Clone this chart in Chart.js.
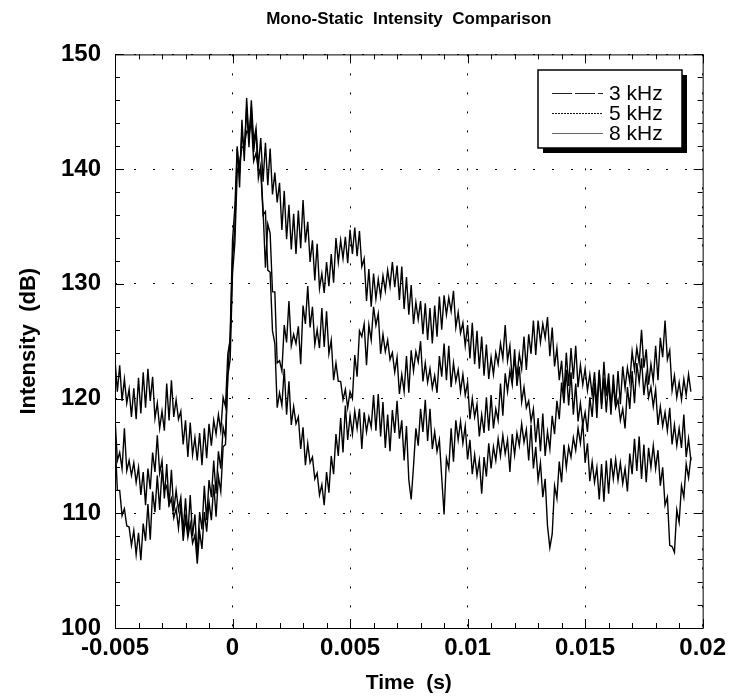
<!DOCTYPE html>
<html>
<head>
<meta charset="utf-8">
<script src="https://cdn.jsdelivr.net/npm/chart.js@4.4.1/dist/chart.umd.min.js"></script>
<style>
  html, body { margin: 0; padding: 0; background: #fff; }
  #wrap { width: 732px; height: 700px; }
</style>
</head>
<body>
<div id="wrap"><canvas id="intensityChart" width="732" height="700"></canvas></div>
<script>
// sample times in ms
const timesMs = [
  -5.0, -4.9, -4.8, -4.7, -4.6, -4.5, -4.4, -4.3, -4.2, -4.1,
  -4.0, -3.9, -3.8, -3.7, -3.6, -3.5, -3.4, -3.3, -3.2, -3.1,
  -3.0, -2.9, -2.8, -2.7, -2.6, -2.5, -2.4, -2.3, -2.2, -2.1,
  -2.0, -1.9, -1.8, -1.7, -1.6, -1.5, -1.4, -1.3, -1.2, -1.1,
  -1.0, -0.9, -0.8, -0.7, -0.6, -0.5, -0.4, -0.3, -0.2, -0.1,
  0.0, 0.1, 0.2, 0.3, 0.4, 0.5, 0.6, 0.7, 0.8, 0.9,
  1.0, 1.1, 1.2, 1.3, 1.4, 1.5, 1.6, 1.7, 1.8, 1.9,
  2.0, 2.1, 2.2, 2.3, 2.4, 2.5, 2.6, 2.7, 2.8, 2.9,
  3.0, 3.1, 3.2, 3.3, 3.4, 3.5, 3.6, 3.7, 3.8, 3.9,
  4.0, 4.1, 4.2, 4.3, 4.4, 4.5, 4.6, 4.7, 4.8, 4.9,
  5.0, 5.1, 5.2, 5.3, 5.4, 5.5, 5.6, 5.7, 5.8, 5.9,
  6.0, 6.1, 6.2, 6.3, 6.4, 6.5, 6.6, 6.7, 6.8, 6.9,
  7.0, 7.1, 7.2, 7.3, 7.4, 7.5, 7.6, 7.7, 7.8, 7.9,
  8.0, 8.1, 8.2, 8.3, 8.4, 8.5, 8.6, 8.7, 8.8, 8.9,
  9.0, 9.1, 9.2, 9.3, 9.4, 9.5, 9.6, 9.7, 9.8, 9.9,
  10.0, 10.1, 10.2, 10.3, 10.4, 10.5, 10.6, 10.7, 10.8, 10.9,
  11.0, 11.1, 11.2, 11.3, 11.4, 11.5, 11.6, 11.7, 11.8, 11.9,
  12.0, 12.1, 12.2, 12.3, 12.4, 12.5, 12.6, 12.7, 12.8, 12.9,
  13.0, 13.1, 13.2, 13.3, 13.4, 13.5, 13.6, 13.7, 13.8, 13.9,
  14.0, 14.1, 14.2, 14.3, 14.4, 14.5, 14.6, 14.7, 14.8, 14.9,
  15.0, 15.1, 15.2, 15.3, 15.4, 15.5, 15.6, 15.7, 15.8, 15.9,
  16.0, 16.1, 16.2, 16.3, 16.4, 16.5, 16.6, 16.7, 16.8, 16.9,
  17.0, 17.1, 17.2, 17.3, 17.4, 17.5, 17.6, 17.7, 17.8, 17.9,
  18.0, 18.1, 18.2, 18.3, 18.4, 18.5, 18.6, 18.7, 18.8, 18.9,
  19.0, 19.1, 19.2, 19.3, 19.4, 19.5
];

// intensity (dB) for each frequency
const kHz3 = [
  123.4, 120.6, 122.9, 119.8, 121.7, 119.6, 120.8, 118.4, 120.9, 118.2,
  121.8, 118.7, 122.3, 119.2, 122.6, 119.8, 121.9, 118.3, 119.6, 117.4,
  118.9, 117.2, 121.3, 118.1, 121.6, 118.4, 119.9, 118.2, 118.9, 116.0,
  118.1, 114.9, 117.9, 115.1, 116.6, 114.6, 117.0, 114.2, 117.4, 114.8,
  117.8, 115.9, 118.1, 116.9, 118.6, 117.2, 120.1, 119.3, 123.9, 125.1,
  132.2, 134.9, 141.8, 139.6, 143.2, 141.5, 145.4, 141.9, 146.0, 142.4,
  143.6, 140.2, 142.7, 138.9, 142.3, 138.6, 141.8, 137.8, 139.7, 137.1,
  138.8, 134.7, 138.1, 133.9, 136.9, 133.0, 136.1, 132.6, 136.4, 133.1,
  137.3, 133.6, 135.4, 131.9, 133.8, 130.3, 133.5, 129.6, 130.9, 129.2,
  131.9, 129.8, 132.6, 130.1, 134.0, 131.9, 133.8, 132.2, 134.1, 131.8,
  134.7, 132.6, 134.9, 132.4, 134.6, 131.5, 132.2, 128.5, 131.3, 128.0,
  130.9, 128.7, 130.4, 128.9, 130.7, 129.4, 131.2, 129.8, 131.9, 129.7,
  131.6, 128.6, 131.5, 127.8, 130.6, 127.3, 129.9, 126.5, 128.4, 126.9,
  128.5, 125.6, 128.3, 125.1, 127.9, 124.8, 128.1, 125.4, 128.9, 126.0,
  129.0, 127.3, 128.8, 127.6, 129.4, 126.2, 127.5, 125.7, 126.6, 124.6,
  126.4, 123.5, 126.6, 123.0, 125.9, 122.6, 125.4, 122.0, 124.7, 121.7,
  123.6, 122.1, 124.0, 123.0, 124.8, 123.5, 126.4, 123.3, 124.6, 121.5,
  123.5, 121.9, 123.9, 122.6, 125.4, 122.5, 125.6, 123.9, 126.8, 123.8,
  126.8, 124.9, 126.5, 125.3, 127.1, 123.7, 126.2, 122.8, 124.4, 121.6,
  123.3, 120.4, 124.0, 121.1, 124.4, 121.7, 124.6, 121.0, 122.9, 121.2,
  122.6, 120.7, 122.1, 120.3, 122.3, 119.4, 122.5, 119.1, 121.8, 118.8,
  121.5, 118.6, 122.1, 119.3, 122.4, 119.5, 122.8, 120.9, 122.7, 121.4,
  124.1, 122.5, 124.4, 123.1, 126.0, 122.7, 124.3, 121.2, 123.0, 121.5,
  124.6, 121.6, 125.3, 123.6, 126.8, 123.4, 124.2, 120.7, 122.0, 120.1,
  121.4, 119.9, 121.7, 120.3, 122.1, 120.6
];

const kHz5 = [
  118.4, 114.6, 115.3, 113.9, 117.4, 113.7, 114.6, 113.3, 114.4, 112.7,
  114.0, 111.6, 113.6, 110.7, 113.9, 112.1, 115.3, 113.6, 116.8, 113.5,
  114.6, 111.3, 114.3, 110.6, 113.8, 110.2, 112.0, 110.3, 111.4, 108.4,
  111.3, 108.1, 111.6, 108.0, 109.9, 106.2, 110.1, 108.6, 112.4, 109.4,
  112.9, 111.4, 114.6, 111.7, 115.4, 113.9, 117.5, 116.6, 122.1, 125.6,
  133.8, 136.7, 142.0, 138.4, 144.3, 140.7, 146.2, 142.6, 145.4, 141.5,
  143.4, 139.2, 140.3, 136.4, 131.4, 135.2, 134.4, 129.3, 129.3, 123.1,
  123.3, 122.4, 126.4, 124.9, 128.5, 124.6, 125.6, 124.8, 126.3, 123.0,
  128.1, 126.5, 129.8, 126.2, 128.0, 124.7, 126.0, 124.4, 127.9, 124.5,
  127.6, 123.9, 125.1, 121.6, 123.1, 121.5, 121.5, 119.9, 120.8, 119.2,
  120.6, 120.0, 123.8, 121.9, 125.9, 125.4, 126.5, 122.9, 126.4, 125.1,
  128.0, 126.4, 127.4, 123.9, 125.6, 124.1, 125.1, 123.4, 124.0, 122.3,
  123.6, 120.4, 122.1, 120.6, 123.7, 120.5, 124.2, 122.4, 124.1, 123.2,
  125.0, 121.5, 123.1, 121.4, 122.6, 120.9, 122.0, 120.5, 123.7, 121.9,
  124.8, 121.6, 124.6, 121.0, 123.1, 121.5, 122.5, 120.6, 122.1, 120.3,
  121.4, 118.2, 120.0, 118.4, 119.5, 116.7, 118.6, 117.0, 120.1, 117.2,
  120.3, 117.4, 119.1, 118.1, 121.3, 118.5, 122.2, 120.6, 122.4, 121.2,
  124.3, 121.1, 122.8, 119.7, 121.0, 119.2, 119.8, 118.0, 119.1, 116.2,
  118.3, 115.4, 118.7, 115.0, 117.1, 115.6, 118.5, 116.9, 119.8, 118.2,
  121.4, 119.6, 122.5, 119.4, 122.3, 118.6, 121.3, 118.0, 119.6, 117.7,
  118.8, 117.1, 120.1, 118.4, 121.4, 118.3, 122.3, 119.5, 123.2, 120.2,
  122.2, 119.4, 121.1, 119.2, 119.9, 118.1, 119.1, 117.4, 121.0, 119.1,
  122.4, 119.6, 123.1, 121.4, 123.5, 120.3, 122.1, 120.1, 121.0, 119.3,
  120.8, 117.7, 119.3, 117.6, 118.8, 117.2, 119.2, 116.0, 117.7, 115.9,
  117.4, 115.7, 118.6, 114.9, 116.5, 114.6
];

const kHz8 = [
  116.6, 112.0, 112.0, 109.8, 110.4, 108.9, 108.8, 107.2, 108.5, 106.4,
  108.3, 105.9, 109.1, 107.6, 110.8, 107.7, 111.9, 110.1, 113.3, 110.3,
  113.8, 112.0, 112.4, 110.7, 111.3, 109.6, 110.4, 108.7, 110.8, 107.6,
  109.6, 107.9, 109.1, 107.4, 108.1, 105.6, 108.4, 106.9, 110.1, 108.4,
  111.0, 109.4, 112.5, 109.7, 113.2, 111.9, 115.8, 116.0, 122.0, 123.4,
  130.9, 133.6, 139.8, 140.6, 141.9, 142.0, 143.3, 143.1, 144.2, 140.7,
  141.4, 139.9, 139.9, 136.0, 136.3, 131.2, 131.0, 125.9, 124.8, 119.2,
  120.5, 119.4, 122.6, 118.6, 121.5, 117.7, 119.3, 117.8, 118.4, 115.6,
  117.5, 114.2, 116.1, 114.4, 114.9, 113.0, 113.5, 111.6, 112.5, 110.7,
  113.6, 111.8, 115.0, 113.4, 116.9, 115.0, 118.3, 115.3, 119.4, 116.4,
  118.5, 116.9, 118.9, 117.4, 119.1, 115.6, 118.8, 117.1, 118.4, 117.5,
  120.3, 117.2, 120.4, 116.7, 119.7, 115.7, 118.6, 115.4, 119.0, 117.0,
  119.8, 116.5, 118.1, 114.6, 117.6, 112.9, 111.2, 114.1, 117.4, 115.9,
  119.1, 117.1, 119.9, 116.3, 119.1, 115.6, 117.1, 115.4, 116.4, 113.1,
  109.9, 114.8, 113.9, 117.4, 114.5, 118.1, 116.4, 118.0, 116.1, 117.6,
  114.7, 116.4, 113.4, 115.1, 113.3, 114.6, 111.7, 114.9, 113.2, 116.1,
  113.9, 115.8, 114.6, 116.5, 115.0, 116.8, 115.2, 116.4, 113.6, 116.9,
  115.1, 117.0, 115.9, 117.8, 116.2, 117.3, 114.6, 117.7, 113.9, 115.8,
  112.9, 114.4, 111.4, 113.0, 108.9, 107.0, 108.2, 112.4, 111.3, 114.5,
  112.7, 116.0, 114.0, 115.8, 114.9, 116.6, 115.5, 117.4, 116.1, 118.0,
  114.4, 116.1, 112.8, 114.5, 112.7, 114.0, 111.2, 114.3, 111.0, 114.6,
  111.7, 114.8, 113.0, 114.7, 112.9, 114.4, 112.6, 113.9, 111.9, 115.2,
  113.4, 116.5, 113.7, 116.7, 113.0, 116.0, 112.7, 115.7, 114.0, 115.9,
  113.9, 115.5, 112.4, 114.0, 110.7, 111.4, 107.2, 107.1, 106.6, 110.3,
  109.2, 112.4, 111.4, 114.3, 113.1, 114.9
];

const seriesNames = ['3 kHz', '5 kHz', '8 kHz'];
const xTickLabels = ['-0.005', '0', '0.005', '0.01', '0.015', '0.02'];
const yTickLabels = ['100', '110', '120', '130', '140', '150'];

function toPoints(values) {
  return timesMs.map((t, i) => ({ x: t / 1000, y: values[i] }));
}

// legend line styles
const legendStyles = [
  { dash: [20, 3], color: '#222' },
  { dash: [2, 1], color: '#111' },
  { dash: [], color: '#666' }
];

// frame + inward ticks on all four sides
const frameTicks = {
  id: 'frameTicks',
  afterDatasetsDraw(chart) {
    const { ctx, chartArea: a, scales } = chart;
    const xs = scales.x, ys = scales.y;
    ctx.save();
    ctx.strokeStyle = '#000';
    ctx.lineWidth = 1;
    ctx.strokeRect(a.left + 0.5, a.top + 0.5, a.right - a.left, a.bottom - a.top);
    ctx.beginPath();
    for (let k = 0; k <= 25; k++) {
      const px = Math.round(xs.getPixelForValue(-0.005 + k * 0.001)) + 0.5;
      const len = k % 5 === 0 ? 9 : 5;
      ctx.moveTo(px, a.bottom); ctx.lineTo(px, a.bottom - len);
      ctx.moveTo(px, a.top); ctx.lineTo(px, a.top + len);
    }
    for (let k = 0; k <= 25; k++) {
      const py = Math.round(ys.getPixelForValue(100 + k * 2)) + 0.5;
      const len = k % 5 === 0 ? 9 : 5;
      ctx.moveTo(a.left, py); ctx.lineTo(a.left + len, py);
      ctx.moveTo(a.right, py); ctx.lineTo(a.right - len, py);
    }
    ctx.stroke();
    ctx.restore();
  }
};

// boxed legend with drop shadow
const boxLegend = {
  id: 'boxLegend',
  afterDraw(chart) {
    const { ctx } = chart;
    const bx = 538, by = 70, bw = 144, bh = 78;
    ctx.save();
    ctx.fillStyle = '#000';
    ctx.fillRect(bx + 5, by + 5, bw, bh);
    ctx.fillStyle = '#fff';
    ctx.fillRect(bx, by, bw, bh);
    ctx.strokeStyle = '#000';
    ctx.lineWidth = 1.5;
    ctx.strokeRect(bx, by, bw, bh);
    ctx.font = '21px "Liberation Sans", Arial, sans-serif';
    ctx.textBaseline = 'middle';
    ctx.textAlign = 'left';
    chart.data.datasets.forEach((ds, i) => {
      const y = by + 23 + i * 20;
      ctx.strokeStyle = legendStyles[i].color;
      ctx.lineWidth = 1;
      ctx.setLineDash(legendStyles[i].dash);
      ctx.beginPath();
      ctx.moveTo(552, y + 0.5);
      ctx.lineTo(603, y + 0.5);
      ctx.stroke();
      ctx.setLineDash([]);
      ctx.fillStyle = '#000';
      ctx.fillText(ds.label, 609, y + 1);
    });
    ctx.restore();
  }
};

const ctx = document.getElementById('intensityChart').getContext('2d');
const intensityChart = new Chart(ctx, {
  type: 'line',
  data: {
    datasets: [kHz3, kHz5, kHz8].map((vals, i) => ({
      label: seriesNames[i],
      data: toPoints(vals),
      borderColor: '#000',
      borderWidth: 1.4,
      pointRadius: 0,
      tension: 0,
      fill: false
    }))
  },
  options: {
    responsive: false,
    animation: false,
    layout: { padding: { left: 0, right: 29, top: 0, bottom: 0 } },
    plugins: {
      legend: { display: false },
      tooltip: { enabled: false },
      title: {
        display: true,
        fullSize: false,
        text: 'Mono-Static  Intensity  Comparison',
        color: '#000',
        font: { family: '"Liberation Sans", Arial, sans-serif', size: 17, weight: 'bold' },
        padding: { top: 9, bottom: 25 }
      }
    },
    scales: {
      x: {
        type: 'linear',
        min: -0.005,
        max: 0.02,
        afterFit(scale) { scale.height = 72; },
        afterBuildTicks(scale) {
          scale.ticks = xTickLabels.map(s => ({ value: parseFloat(s) }));
        },
        ticks: {
          color: '#000',
          padding: 6,
          maxRotation: 0,
          autoSkip: false,
          font: { family: '"Liberation Sans", Arial, sans-serif', size: 24, weight: 'bold' },
          callback: (v, i) => xTickLabels[i]
        },
        grid: { color: '#000', lineWidth: 1, drawTicks: false },
        border: { display: false, dash: [2, 17] },
        title: {
          display: true,
          text: 'Time  (s)',
          color: '#000',
          font: { family: '"Liberation Sans", Arial, sans-serif', size: 21, weight: 'bold' },
          padding: { top: 0, bottom: 4 }
        }
      },
      y: {
        min: 100,
        max: 150,
        afterFit(scale) { scale.width = 115; },
        afterBuildTicks(scale) {
          scale.ticks = yTickLabels.map(s => ({ value: parseFloat(s) }));
        },
        ticks: {
          color: '#000',
          padding: 14,
          autoSkip: false,
          font: { family: '"Liberation Sans", Arial, sans-serif', size: 24, weight: 'bold' },
          callback: (v, i) => yTickLabels[i]
        },
        grid: { color: '#000', lineWidth: 1, drawTicks: false },
        border: { display: false, dash: [2, 17] },
        title: {
          display: true,
          text: 'Intensity  (dB)',
          color: '#000',
          font: { family: '"Liberation Sans", Arial, sans-serif', size: 22, weight: 'bold' },
          padding: { top: 16, bottom: 0 }
        }
      }
    }
  },
  plugins: [frameTicks, boxLegend]
});
</script>
</body>
</html>
